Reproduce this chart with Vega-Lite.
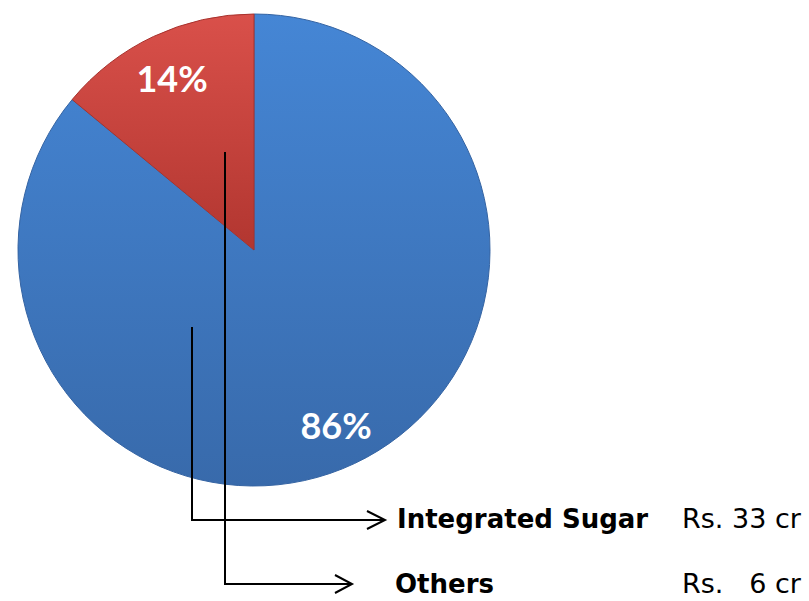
{
  "$schema": "https://vega.github.io/schema/vega-lite/v6.json",
  "width": 809,
  "height": 601,
  "autosize": {"type": "none"},
  "padding": 0,
  "background": "white",
  "config": {"view": {"stroke": null}},
  "datasets": {
    "slices": [
      {"name": "Integrated Sugar", "value": 86, "ord": 1},
      {"name": "Others", "value": 14, "ord": 2}
    ],
    "paths": [
      {"seg": "integrated", "i": 0, "x": 192, "y": 327},
      {"seg": "integrated", "i": 1, "x": 192, "y": 520},
      {"seg": "integrated", "i": 2, "x": 385, "y": 520},
      {"seg": "integrated-head", "i": 0, "x": 367, "y": 511},
      {"seg": "integrated-head", "i": 1, "x": 385, "y": 520},
      {"seg": "integrated-head", "i": 2, "x": 367, "y": 529},
      {"seg": "others", "i": 0, "x": 225, "y": 152},
      {"seg": "others", "i": 1, "x": 225, "y": 584},
      {"seg": "others", "i": 2, "x": 352, "y": 584},
      {"seg": "others-head", "i": 0, "x": 335, "y": 575},
      {"seg": "others-head", "i": 1, "x": 352, "y": 584},
      {"seg": "others-head", "i": 2, "x": 335, "y": 593}
    ],
    "pct": [
      {"x": 336, "y": 439, "text": "86%"},
      {"x": 172, "y": 92, "text": "14%"}
    ],
    "names": [
      {"x": 397, "y": 528, "text": "Integrated Sugar"},
      {"x": 395, "y": 593, "text": "Others"}
    ],
    "amounts": [
      {"x": 682, "y": 528, "text": "Rs. 33 cr"},
      {"x": 682, "y": 593, "text": "Rs.\u00a0\u20076 cr"}
    ]
  },
  "layer": [
    {
      "data": {"name": "slices"},
      "mark": {"type": "arc", "outerRadius": 236, "strokeWidth": 1},
      "encoding": {
        "x": {"datum": 254, "type": "quantitative", "scale": {"domain": [0, 809], "nice": false, "zero": false}, "axis": null},
        "y": {"datum": 250, "type": "quantitative", "scale": {"domain": [0, 601], "nice": false, "zero": false, "reverse": true}, "axis": null},
        "theta": {"field": "value", "type": "quantitative", "stack": true},
        "order": {"field": "ord", "type": "quantitative"},
        "fill": {
          "condition": {
            "test": "datum.name === 'Others'",
            "value": {"gradient": "linear", "x1": 0, "y1": 0, "x2": 0, "y2": 1, "stops": [{"offset": 0, "color": "#d9504a"}, {"offset": 1, "color": "#b23630"}]}
          },
          "value": {"gradient": "linear", "x1": 0, "y1": 0, "x2": 0, "y2": 1, "stops": [{"offset": 0, "color": "#4586d5"}, {"offset": 1, "color": "#386aab"}]}
        },
        "stroke": {
          "condition": {"test": "datum.name === 'Others'", "value": "#a8322d"},
          "value": "#3564a3"
        }
      }
    },
    {
      "data": {"name": "paths"},
      "mark": {"type": "line", "color": "black", "strokeWidth": 2},
      "encoding": {
        "x": {"field": "x", "type": "quantitative"},
        "y": {"field": "y", "type": "quantitative"},
        "detail": {"field": "seg"},
        "order": {"field": "i", "type": "quantitative"}
      }
    },
    {
      "data": {"name": "pct"},
      "mark": {"type": "text", "font": "Lato", "fontWeight": "bold", "fontSize": 36, "color": "white", "align": "center", "baseline": "alphabetic"},
      "encoding": {
        "x": {"field": "x", "type": "quantitative"},
        "y": {"field": "y", "type": "quantitative"},
        "text": {"field": "text"}
      }
    },
    {
      "data": {"name": "names"},
      "mark": {"type": "text", "font": "DejaVu Sans", "fontWeight": "bold", "fontSize": 26, "color": "black", "align": "left", "baseline": "alphabetic"},
      "encoding": {
        "x": {"field": "x", "type": "quantitative"},
        "y": {"field": "y", "type": "quantitative"},
        "text": {"field": "text"}
      }
    },
    {
      "data": {"name": "amounts"},
      "mark": {"type": "text", "font": "DejaVu Sans", "fontSize": 27, "color": "black", "align": "left", "baseline": "alphabetic"},
      "encoding": {
        "x": {"field": "x", "type": "quantitative"},
        "y": {"field": "y", "type": "quantitative"},
        "text": {"field": "text"}
      }
    }
  ]
}
